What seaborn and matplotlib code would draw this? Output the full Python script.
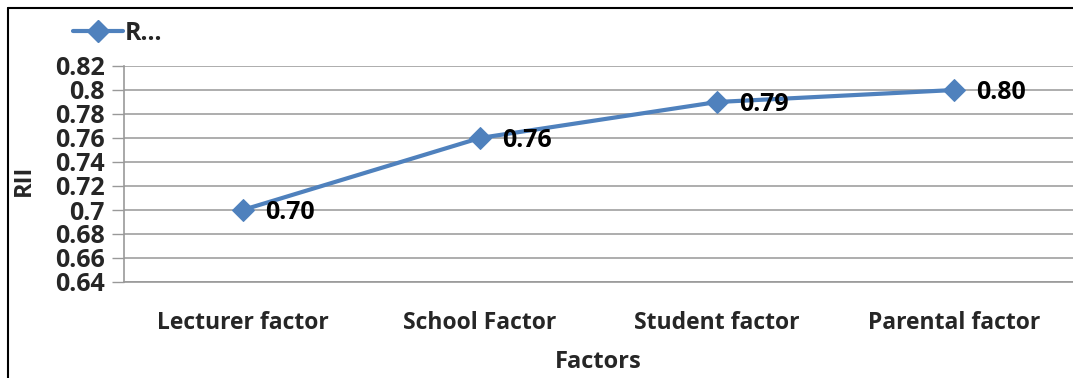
import matplotlib
matplotlib.use("Agg")
import matplotlib.pyplot as plt
import seaborn as sns
import pandas as pd
from matplotlib.lines import Line2D

categories = ["Lecturer factor", "School Factor", "Student factor", "Parental factor"]
rii_values = [0.70, 0.76, 0.79, 0.80]
value_labels = ["0.70", "0.76", "0.79", "0.80"]
y_ticks = [0.64, 0.66, 0.68, 0.70, 0.72, 0.74, 0.76, 0.78, 0.80, 0.82]
y_tick_labels = ["0.64", "0.66", "0.68", "0.7", "0.72", "0.74", "0.76", "0.78", "0.8", "0.82"]

sns.set_theme(style="white")
plt.rcParams['font.family'] = ['Open Sans', 'DejaVu Sans']
plt.rcParams['font.weight'] = 'bold'

df = pd.DataFrame({"Factors": categories, "RII": rii_values})
color = "#4F81BD"

fig = plt.figure(figsize=(10.73, 3.78), dpi=100)
ax = fig.add_axes([124/1073, 1 - 282/378, 1 - 124/1073, (282 - 66)/378])

sns.lineplot(data=df, x="Factors", y="RII", ax=ax, color=color, linewidth=3,
             marker="D", markersize=11, markeredgecolor=color, sort=False, legend=False)

ax.set_xlim(-0.5, 3.5)
ax.set_ylim(0.64, 0.82)
ax.set_yticks(y_ticks)
ax.set_yticklabels(y_tick_labels, fontsize=18, fontweight='bold')
ax.set_xticks(range(len(categories)))
ax.set_xticklabels(categories, fontsize=16.5, fontweight='bold')
ax.tick_params(axis='y', which='both', left=True, length=9, width=1, color='#999999', pad=5)
ax.tick_params(axis='x', length=0, pad=21)
ax.yaxis.grid(True, color='#A0A0A0', linewidth=1.2)
ax.xaxis.grid(False)
for s in ['top', 'right']:
    ax.spines[s].set_visible(False)
for s in ['left', 'bottom']:
    ax.spines[s].set_color('#999999')
    ax.spines[s].set_linewidth(1.2)

ax.set_ylabel("RII", fontsize=17, fontweight='bold')
ax.yaxis.set_label_coords((36 - 124) / 949, (282 - 180) / 216)
ax.set_xlabel("Factors", fontsize=17, fontweight='bold', labelpad=11)

for i, (v, lab) in enumerate(zip(rii_values, value_labels)):
    ax.annotate(lab, xy=(i, v), xytext=(16, -2), textcoords='offset points',
                fontsize=18, fontweight='bold', va='center', ha='left', color='black')

handle = Line2D([0], [0], color=color, linewidth=3, marker="D", markersize=11,
                markeredgecolor=color)
fig.legend([handle], ["R..."], loc='upper left', bbox_to_anchor=(55/1073, 1 - 3/378),
           frameon=False, fontsize=18, handlelength=2.0, borderpad=0.2, handletextpad=0.1)

# outer frame (left and top edges visible)
fig.add_artist(Line2D([8/1073, 8/1073], [0, 1 - 8/378], color='black', linewidth=1.5,
                      transform=fig.transFigure))
fig.add_artist(Line2D([8/1073, 1], [1 - 8/378, 1 - 8/378], color='black', linewidth=1.5,
                      transform=fig.transFigure))

fig.savefig("out.png", dpi=100)
